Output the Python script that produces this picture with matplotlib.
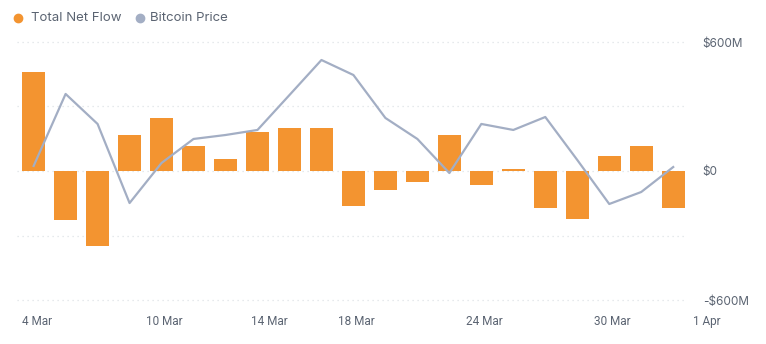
import matplotlib.pyplot as plt
from matplotlib.lines import Line2D

# daily net flow ($M) and bitcoin price ($k), one entry per bar
net_flow = [460, -228, -349, 166, 245, 115, 54, 180, 198, 198, -163,
            -88, -51, 166, -65, 8, -172, -223, 68, 115, -172]
btc_price = [64.17, 70.17, 67.67, 61.08, 64.42, 66.42, 66.75, 67.17, 70.08, 73.0, 71.75,
             68.17, 66.42, 63.58, 67.67, 67.17, 68.25, 64.67, 61.0, 62.0, 64.08]
tick_labels = ['4 Mar', '10 Mar', '14 Mar', '18 Mar', '24 Mar', '30 Mar', '1 Apr']
tick_pos = [0.1, 4.1, 7.36, 10.1, 14.1, 18.1, 21.05]
y_ticks = [-600, 0, 600]
y_tick_labels = ['-$600M', '$0', '$600M']

orange = '#F39430'
grey = '#A3AEC4'
text_col = '#5b6472'

fig = plt.figure(figsize=(7.66, 3.44), dpi=100)
W, H = 766, 344
ax = fig.add_axes([17 / W, 1 - 300 / H, (686 - 17) / W, 258 / H])

x = list(range(len(net_flow)))
ax.bar(x, net_flow, width=0.72, color=orange, zorder=2)
ax.set_xlim(-0.52, 20.4)
ax.set_ylim(-600, 600)

for g in [-600, -300, 0, 300, 600]:
    ax.axhline(g, color='#dfe2e6', lw=0.9, ls=(0, (1, 3)), zorder=1, clip_on=False)

ax2 = ax.twinx()
ax2.plot(x, btc_price, color=grey, lw=1.6, zorder=3)
ax2.set_ylim(53.0, 74.5)
ax2.axis('off')

for s in ax.spines.values():
    s.set_visible(False)
ax.set_xticks([])
ax.yaxis.tick_right()
ax.set_yticks(y_ticks)
ax.set_yticklabels(y_tick_labels, fontsize=8.5, color=text_col, family='Inter', ha='left')
ax.tick_params(axis='y', length=0, pad=12, labelright=True, labelleft=False)

for p, lab in zip(tick_pos, tick_labels):
    ax.text(p, -0.085, lab, transform=ax.get_xaxis_transform(), ha='center', va='center',
            fontsize=8.5, color=text_col, family='Roboto', clip_on=False)

# legend
fy = 1 - 18 / H
fig.add_artist(Line2D([18 / W], [fy], marker='o', color=orange, markersize=6, ls='none'))
fig.text(31 / W, fy, 'Total Net Flow', fontsize=9.5, color=text_col, family='Inter', va='center')
fig.add_artist(Line2D([140 / W], [fy], marker='o', color=grey, markersize=6, ls='none'))
fig.text(150 / W, fy, 'Bitcoin Price', fontsize=9.5, color=text_col, family='Inter', va='center')

fig.savefig('out.png', dpi=100)
